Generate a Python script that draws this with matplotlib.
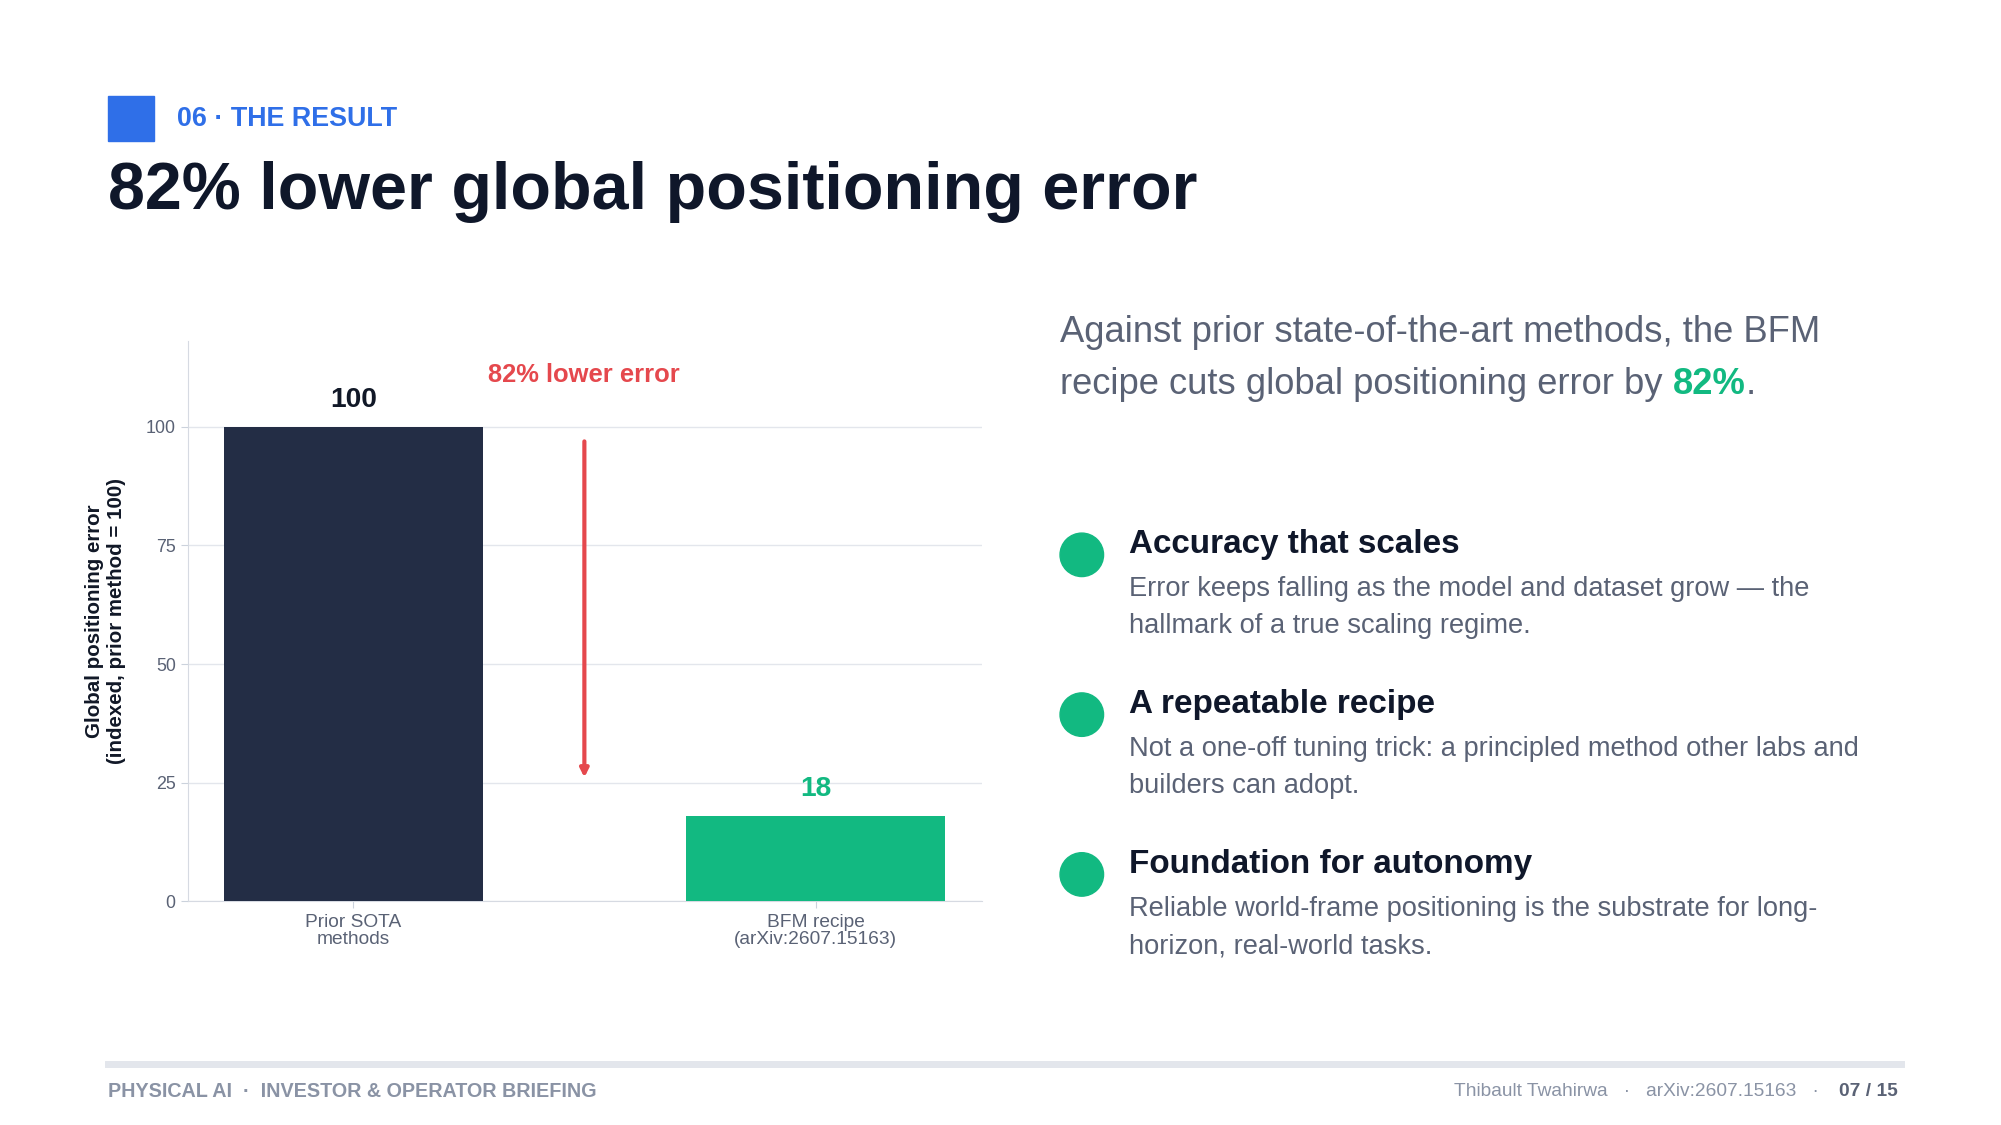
import matplotlib
matplotlib.use("Agg")
import matplotlib.pyplot as plt
from matplotlib.patches import Rectangle, Ellipse

plt.rcParams['font.family'] = ['Liberation Sans', 'DejaVu Sans']

categories = ["Prior SOTA\nmethods", "BFM recipe\n(arXiv:2607.15163)"]
values = [100, 18]
bar_colors = ["#232d45", "#12b981"]
yticks = [0, 25, 50, 75, 100]

W, H = 1563, 880
fig = plt.figure(figsize=(20.01, 11.25), dpi=100)
fig.patch.set_facecolor("white")
def fx(x): return x / W
def fy(y): return 1 - y / H
S = 0.92

fig.patches.append(Rectangle((fx(84), fy(110)), fx(36), 35 / H, transform=fig.transFigure,
                             color="#2f6fe8", zorder=2))
fig.text(fx(138), fy(93), "06 · THE RESULT",
         color="#2f6fe8", fontsize=21 * S, fontweight="bold", va="center", ha="left")
fig.text(fx(84), fy(150), "82% lower global positioning error", color="#0f172a",
         fontsize=52 * S, fontweight="bold", va="center", ha="left")

ax = fig.add_axes([fx(147), fy(705), fx(767) - fx(147), (705 - 267) / H])
x = [0, 1]
ax.bar(x, values, width=0.56, color=bar_colors, zorder=3)
ax.set_xlim(-0.357, 1.36)
ax.set_ylim(0, 118)
ax.set_yticks(yticks)
ax.set_yticklabels([str(t) for t in yticks], fontsize=14 * S, color="#5a6275")
ax.set_xticks(x)
ax.set_xticklabels(categories, fontsize=15 * S, color="#5a6275", linespacing=1.0)
ax.tick_params(length=5, color="#cbd2dc", pad=4)
ax.grid(axis="y", color="#e3e6ec", lw=1, zorder=0)
for s in ["top", "right"]:
    ax.spines[s].set_visible(False)
for s in ["left", "bottom"]:
    ax.spines[s].set_color("#d6dae2")
ax.set_ylabel("Global positioning error\n(indexed, prior method = 100)", fontsize=16 * S,
              fontweight="bold", color="#111827", labelpad=14)
ax.text(0, values[0] + 3, str(values[0]), ha="center", va="bottom", fontsize=22 * S,
        fontweight="bold", color="#111827")
ax.text(1, values[1] + 3, str(values[1]), ha="center", va="bottom", fontsize=22 * S,
        fontweight="bold", color="#12b981")
ax.annotate("", xy=(0.5, 25.5), xytext=(0.5, 97.5),
            arrowprops=dict(arrowstyle="-|>", color="#e5484d", lw=3, mutation_scale=12))
ax.text(0.5, 111, "82% lower error", ha="center", va="center", fontsize=20 * S,
        fontweight="bold", color="#e5484d")

gray = "#5a6275"
fig.text(fx(828), fy(260), "Against prior state-of-the-art methods, the BFM", color=gray,
         fontsize=28.5 * S, va="center")
t = fig.text(fx(828), fy(301), "recipe cuts global positioning error by ", color=gray,
             fontsize=28.5 * S, va="center")
fig.canvas.draw()
bb = t.get_window_extent()
t2 = fig.text(bb.x1 / fig.bbox.width, fy(301), "82%", color="#12b981", fontsize=28.5 * S,
              va="center", fontweight="bold")
fig.canvas.draw()
bb2 = t2.get_window_extent()
fig.text(bb2.x1 / fig.bbox.width, fy(301), ".", color=gray, fontsize=28.5 * S, va="center")

items = [
    ("Accuracy that scales", ["Error keeps falling as the model and dataset grow — the",
                              "hallmark of a true scaling regime."], 426),
    ("A repeatable recipe", ["Not a one-off tuning trick: a principled method other labs and",
                             "builders can adopt."], 551),
    ("Foundation for autonomy", ["Reliable world-frame positioning is the substrate for long-",
                                 "horizon, real-world tasks."], 676),
]
for head, lines, y in items:
    fig.patches.append(Ellipse((fx(845), fy(y + 8)), 34 / W, 34 / H, transform=fig.transFigure,
                               color="#12b981", zorder=3))
    fig.text(fx(882), fy(y), head, fontsize=26 * S, fontweight="bold", color="#0f172a", va="center")
    for i, ln in enumerate(lines):
        fig.text(fx(882), fy(y + 35 + 29 * i), ln, fontsize=21.3 * S, color=gray, va="center")

fig.add_artist(plt.Line2D([fx(84), fx(1485)], [fy(832), fy(832)], transform=fig.transFigure,
                          color="#e3e6ec", lw=5))
fig.text(fx(84), fy(854), "PHYSICAL AI  ·  INVESTOR & OPERATOR BRIEFING", fontsize=15.5 * S,
         fontweight="bold", color="#8a93a5", va="center")
fig.text(fx(1482), fy(854), "07 / 15", fontsize=15 * S, fontweight="bold", color="#5a6275",
         va="center", ha="right")
fig.text(fx(1421), fy(854), "Thibault Twahirwa   ·   arXiv:2607.15163   ·", fontsize=15 * S,
         color="#8a93a5", va="center", ha="right")

fig.savefig("out.png", dpi=100, facecolor="white")
